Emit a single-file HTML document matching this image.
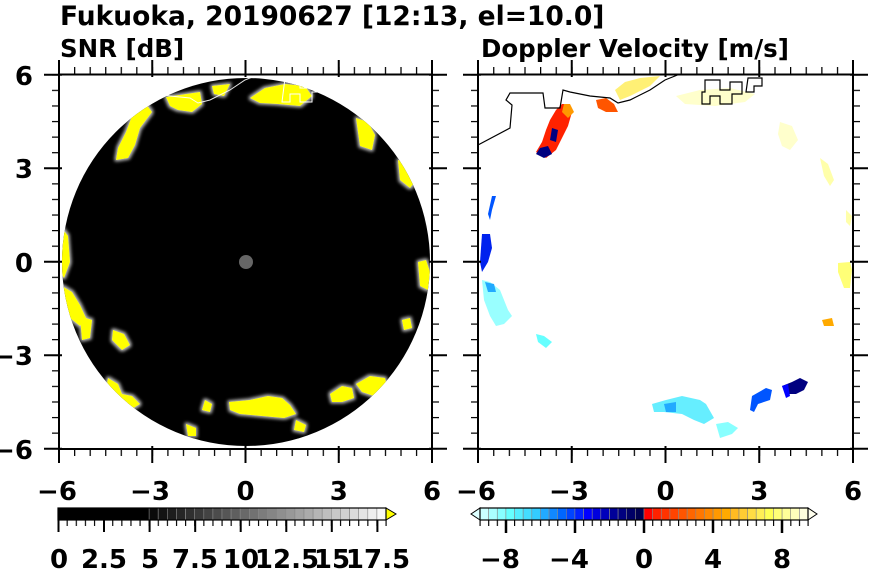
<!DOCTYPE html>
<html><head><meta charset="utf-8"><style>
html,body{margin:0;padding:0;background:#fff}
svg{display:block}
text{font-family:"DejaVu Sans","Liberation Sans",sans-serif;font-weight:bold;fill:#000}
</style></head><body>
<svg width="870" height="570" viewBox="0 0 870 570" xmlns="http://www.w3.org/2000/svg">
<defs>
<pattern id="hxL" patternUnits="userSpaceOnUse" x="58.5" y="0" width="15.54" height="570"><line x1="0.5" y1="0" x2="0.5" y2="570" stroke="#000" stroke-width="1.5"/></pattern>
<pattern id="hxR" patternUnits="userSpaceOnUse" x="477.5" y="0" width="15.625" height="570"><line x1="0.5" y1="0" x2="0.5" y2="570" stroke="#000" stroke-width="1.5"/></pattern>
<pattern id="vy" patternUnits="userSpaceOnUse" x="0" y="74.2" width="870" height="15.58"><line x1="0" y1="0.5" x2="870" y2="0.5" stroke="#000" stroke-width="1.5"/></pattern>
<pattern id="cbL" patternUnits="userSpaceOnUse" x="57.5" y="0" width="9.111" height="570"><line x1="0.5" y1="0" x2="0.5" y2="570" stroke="#000" stroke-width="1.3"/></pattern>
<pattern id="cbR" patternUnits="userSpaceOnUse" x="479.5" y="0" width="8.632" height="570"><line x1="0.5" y1="0" x2="0.5" y2="570" stroke="#000" stroke-width="1.3"/></pattern>
<filter id="glow" x="-20%" y="-20%" width="140%" height="140%"><feMorphology operator="dilate" radius="1.5" in="SourceAlpha" result="d"/><feGaussianBlur in="d" stdDeviation="1.5" result="b"/><feFlood flood-color="#bbb"/><feComposite in2="b" operator="in" result="g"/><feMerge><feMergeNode in="g"/><feMergeNode in="SourceGraphic"/></feMerge></filter>
<clipPath id="circ"><circle cx="246" cy="262" r="184"/></clipPath>
</defs>

<text x="60" y="25" font-size="26.5">Fukuoka, 20190627 [12:13, el=10.0]</text>
<text x="60" y="57" font-size="24.5">SNR [dB]</text>
<text x="481" y="57" font-size="24.5">Doppler Velocity [m/s]</text>

<!-- LEFT PANEL -->
<circle cx="246" cy="262" r="184" fill="#000"/>
<g clip-path="url(#circ)" fill="#ffff00" filter="url(#glow)">
<polygon points="146,104 152,112 140,128 135,145 128,158 116,160 118,148 126,132 132,116"/>
<polygon points="166,97 200,92 202,104 192,112 178,110 170,106"/>
<polygon points="212,86 230,84 224,96 214,94"/>
<polygon points="250,98 265,88 285,84 305,86 312,96 300,106 278,104 260,103"/>
<polygon points="356,118 368,122 375,135 372,150 360,146 358,132"/>
<polygon points="398,160 412,164 418,178 410,188 400,180"/>
<polygon points="62,228 68,236 70,262 64,278 60,272"/>
<polygon points="62,286 72,292 80,305 86,318 80,326 70,318 64,302"/>
<polygon points="80,316 92,320 90,338 82,340"/>
<polygon points="113,330 124,334 130,345 122,350 112,340"/>
<polygon points="108,378 118,384 122,394 132,396 140,404 130,410 114,402 106,390"/>
<polygon points="205,400 212,404 210,412 202,410"/>
<polygon points="229,402 250,400 268,396 282,398 290,405 296,414 284,418 262,416 240,414 230,410"/>
<polygon points="296,420 306,425 304,432 294,430"/>
<polygon points="330,394 342,386 352,388 354,398 342,402 332,402"/>
<polygon points="356,384 370,376 385,378 388,390 374,396 362,392"/>
<polygon points="402,320 410,318 412,328 404,330"/>
<polygon points="418,262 426,260 430,272 428,290 420,286"/>
<polygon points="428,210 432,218 430,226"/>
<polygon points="186,424 196,428 196,436 188,436"/>
</g>
<circle cx="246" cy="262" r="7" fill="#666"/>
<polyline points="59,145 95,128 96,105 90,100 94,93 124,93 126,108 140,108 143,90 150,92 170,96 190,98 198,103 210,100 230,90 245,80 260,74" fill="none" stroke="#fff" stroke-width="1" opacity="0.9"/>
<path d="M285,78 h15 v10 h10 v-8 h12 v12 h-10 v10 h-12 v-8 h-10 v8 h-8 z" fill="none" stroke="#fff" stroke-width="1"/>

<rect x="59" y="74.5" width="373" height="374.5" fill="none" stroke="#000" stroke-width="2"/>
<rect x="58" y="67" width="376" height="7" fill="url(#hxL)"/>
<rect x="58" y="449" width="376" height="7" fill="url(#hxL)"/>
<rect x="52" y="73" width="7" height="378" fill="url(#vy)"/>
<rect x="432" y="73" width="7" height="378" fill="url(#vy)"/>
<g stroke="#000" stroke-width="2">
<path d="M59,60V77M152.25,60V77M245.5,60V77M338.75,60V77M432,60V77"/>
<path d="M59,446V463M152.25,446V463M245.5,446V463M338.75,446V463M432,446V463"/>
<path d="M44,74.7H62M44,168.2H62M44,261.7H62M44,355.2H62M44,448.7H62"/>
<path d="M429,74.7H447M429,168.2H447M429,261.7H447M429,355.2H447M429,448.7H447"/>
</g>
<g font-size="26" text-anchor="end">
<text x="33" y="85">6</text><text x="33" y="178">3</text><text x="33" y="272">0</text><text x="33" y="365">−3</text><text x="33" y="459">−6</text>
</g>
<g font-size="26" text-anchor="middle">
<text x="57" y="500">−6</text><text x="150" y="500">−3</text><text x="245.5" y="500">0</text><text x="338.75" y="500">3</text><text x="432" y="500">6</text>
</g>

<!-- RIGHT PANEL -->
<g>
<polygon points="550,120 556,110 562,104 568,104 572,112 568,126 562,138 556,150 546,158 536,152 542,142 546,130" fill="#ff2200"/>
<polygon points="564,104 570,104 574,112 568,118 562,112" fill="#ff9900"/>
<polygon points="552,128 558,130 556,142 550,140" fill="#000080"/>
<polygon points="540,148 548,146 552,154 544,158 536,154" fill="#000080"/>
<polygon points="596,100 606,98 614,104 618,112 606,112 598,108" fill="#ff5500"/>
<polygon points="615,90 625,82 640,78 660,76 650,86 630,96 620,100" fill="#ffee66" opacity="0.9"/>
<polygon points="676,96 700,90 730,88 755,94 745,102 715,106 685,104" fill="#ffffcc"/>
<polygon points="780,122 792,126 798,140 790,150 782,146 778,134" fill="#ffffcc"/>
<polygon points="820,158 828,164 834,180 830,186 824,176" fill="#ffffaa"/>
<polygon points="846,210 852,216 850,226 846,222" fill="#ffffaa"/>
<polygon points="838,263 850,262 852,270 850,288 844,288 838,272" fill="#ffff77"/>
<polygon points="822,320 832,318 834,326 824,326" fill="#ffaa00"/>
<polygon points="492,196 496,196 492,210 490,220 488,214" fill="#0055ff"/>
<polygon points="482,234 490,234 492,248 488,262 482,272 480,262" fill="#0022ee"/>
<polygon points="482,280 490,282 500,290 504,300 508,310 512,316 504,324 496,326 490,316 484,300" fill="#99ffff"/>
<polygon points="485,282 494,284 496,292 488,292" fill="#22aaff"/>
<polygon points="536,334 544,336 552,342 546,348 538,342" fill="#66ffff"/>
<polygon points="652,404 666,400 682,396 700,400 706,404 714,418 704,424 694,420 682,414 664,412 654,412" fill="#66eeff"/>
<polygon points="664,404 676,402 676,412 666,412" fill="#22aaff"/>
<polygon points="716,424 728,422 738,428 732,434 720,438" fill="#88ffff"/>
<polygon points="752,396 766,388 772,390 770,400 758,404 754,412 750,410" fill="#0055ff"/>
<polygon points="782,386 792,382 800,378 808,382 804,390 796,394 786,394" fill="#000080"/>
<polygon points="782,386 788,384 790,396 786,398" fill="#0000ff"/>
</g>
<polyline points="478,145 510,128 512,105 506,100 510,93 543,93 545,108 560,108 563,90 570,92 590,96 610,98 618,103 630,100 650,90 665,80 680,74" fill="none" stroke="#000" stroke-width="1.2"/>
<path d="M705,80 h15 v10 h10 v-8 h12 v12 h-10 v10 h-12 v-8 h-10 v8 h-8 v-12 h3 z M748,78 h14 v8 h-8 v6 h-8 z" fill="none" stroke="#000" stroke-width="1.2"/>

<rect x="478" y="74.5" width="375" height="374.5" fill="none" stroke="#000" stroke-width="2"/>
<rect x="477" y="67" width="378" height="7" fill="url(#hxR)"/>
<rect x="477" y="449" width="378" height="7" fill="url(#hxR)"/>
<rect x="471" y="73" width="7" height="378" fill="url(#vy)"/>
<rect x="853" y="73" width="7" height="378" fill="url(#vy)"/>
<g stroke="#000" stroke-width="2">
<path d="M478,60V77M571.75,60V77M665.5,60V77M759.25,60V77M853,60V77"/>
<path d="M478,446V463M571.75,446V463M665.5,446V463M759.25,446V463M853,446V463"/>
<path d="M463,74.7H481M463,168.2H481M463,261.7H481M463,355.2H481M463,448.7H481"/>
<path d="M850,74.7H868M850,168.2H868M850,261.7H868M850,355.2H868M850,448.7H868"/>
</g>
<g font-size="26" text-anchor="middle">
<text x="476" y="500">−6</text><text x="569" y="500">−3</text><text x="665.5" y="500">0</text><text x="759.25" y="500">3</text><text x="853" y="500">6</text>
</g>

<!-- LEFT COLORBAR -->
<g stroke="#888" stroke-width="0.6">
<rect x="58" y="508" width="91.1" height="12" fill="#000" stroke="none"/>
<rect x="149.1" y="508" width="9.1" height="12" fill="rgb(10,10,10)"/>
<rect x="158.2" y="508" width="9.1" height="12" fill="rgb(19,19,19)"/>
<rect x="167.3" y="508" width="9.1" height="12" fill="rgb(29,29,29)"/>
<rect x="176.4" y="508" width="9.1" height="12" fill="rgb(38,38,38)"/>
<rect x="185.6" y="508" width="9.1" height="12" fill="rgb(48,48,48)"/>
<rect x="194.7" y="508" width="9.1" height="12" fill="rgb(57,57,57)"/>
<rect x="203.8" y="508" width="9.1" height="12" fill="rgb(67,67,67)"/>
<rect x="212.9" y="508" width="9.1" height="12" fill="rgb(76,76,76)"/>
<rect x="222.0" y="508" width="9.1" height="12" fill="rgb(86,86,86)"/>
<rect x="231.1" y="508" width="9.1" height="12" fill="rgb(95,95,95)"/>
<rect x="240.2" y="508" width="9.1" height="12" fill="rgb(105,105,105)"/>
<rect x="249.3" y="508" width="9.1" height="12" fill="rgb(114,114,114)"/>
<rect x="258.4" y="508" width="9.1" height="12" fill="rgb(124,124,124)"/>
<rect x="267.6" y="508" width="9.1" height="12" fill="rgb(133,133,133)"/>
<rect x="276.7" y="508" width="9.1" height="12" fill="rgb(143,143,143)"/>
<rect x="285.8" y="508" width="9.1" height="12" fill="rgb(152,152,152)"/>
<rect x="294.9" y="508" width="9.1" height="12" fill="rgb(162,162,162)"/>
<rect x="304.0" y="508" width="9.1" height="12" fill="rgb(171,171,171)"/>
<rect x="313.1" y="508" width="9.1" height="12" fill="rgb(181,181,181)"/>
<rect x="322.2" y="508" width="9.1" height="12" fill="rgb(190,190,190)"/>
<rect x="331.3" y="508" width="9.1" height="12" fill="rgb(200,200,200)"/>
<rect x="340.4" y="508" width="9.1" height="12" fill="rgb(209,209,209)"/>
<rect x="349.6" y="508" width="9.1" height="12" fill="rgb(219,219,219)"/>
<rect x="358.7" y="508" width="9.1" height="12" fill="rgb(228,228,228)"/>
<rect x="367.8" y="508" width="9.1" height="12" fill="rgb(238,238,238)"/>
<rect x="376.9" y="508" width="9.1" height="12" fill="rgb(247,247,247)"/>
</g>
<polygon points="386,508 396,514 386,520" fill="#ffff00" stroke="#000" stroke-width="1"/>
<rect x="58" y="508" width="328" height="12" fill="none" stroke="#000" stroke-width="1.2"/>
<rect x="57" y="520" width="331" height="6" fill="url(#cbL)"/>
<path d="M58.5,520V532M104,520V532M149.6,520V532M195.2,520V532M240.7,520V532M286.3,520V532M331.8,520V532M377.4,520V532" stroke="#000" stroke-width="2"/>
<g font-size="26" text-anchor="middle">
<text x="59" y="568">0</text><text x="104" y="568">2.5</text><text x="150" y="568">5</text><text x="195" y="568">7.5</text><text x="241" y="568">10</text><text x="287" y="568">12.5</text><text x="332" y="568">15</text><text x="378" y="568">17.5</text>
</g>

<!-- RIGHT COLORBAR -->
<g stroke="#888" stroke-width="0.6">
<rect x="480.0" y="508" width="8.63" height="12" fill="#ccffff"/>
<rect x="488.6" y="508" width="8.63" height="12" fill="#aaffff"/>
<rect x="497.3" y="508" width="8.63" height="12" fill="#88ffff"/>
<rect x="505.9" y="508" width="8.63" height="12" fill="#66ffff"/>
<rect x="514.5" y="508" width="8.63" height="12" fill="#55eeff"/>
<rect x="523.2" y="508" width="8.63" height="12" fill="#44ddff"/>
<rect x="531.8" y="508" width="8.63" height="12" fill="#33ccff"/>
<rect x="540.4" y="508" width="8.63" height="12" fill="#22aaff"/>
<rect x="549.1" y="508" width="8.63" height="12" fill="#1188ff"/>
<rect x="557.7" y="508" width="8.63" height="12" fill="#0066ff"/>
<rect x="566.3" y="508" width="8.63" height="12" fill="#0044ff"/>
<rect x="574.9" y="508" width="8.63" height="12" fill="#0022ff"/>
<rect x="583.6" y="508" width="8.63" height="12" fill="#0000ff"/>
<rect x="592.2" y="508" width="8.63" height="12" fill="#0000dd"/>
<rect x="600.8" y="508" width="8.63" height="12" fill="#0000bb"/>
<rect x="609.5" y="508" width="8.63" height="12" fill="#000099"/>
<rect x="618.1" y="508" width="8.63" height="12" fill="#000080"/>
<rect x="626.7" y="508" width="8.63" height="12" fill="#000066"/>
<rect x="635.4" y="508" width="8.63" height="12" fill="#000050"/>
<rect x="644.0" y="508" width="8.63" height="12" fill="#ff0000"/>
<rect x="652.6" y="508" width="8.63" height="12" fill="#ff2200"/>
<rect x="661.3" y="508" width="8.63" height="12" fill="#ff3300"/>
<rect x="669.9" y="508" width="8.63" height="12" fill="#ff4400"/>
<rect x="678.5" y="508" width="8.63" height="12" fill="#ff5500"/>
<rect x="687.2" y="508" width="8.63" height="12" fill="#ff6600"/>
<rect x="695.8" y="508" width="8.63" height="12" fill="#ff7700"/>
<rect x="704.4" y="508" width="8.63" height="12" fill="#ff8800"/>
<rect x="713.1" y="508" width="8.63" height="12" fill="#ff9900"/>
<rect x="721.7" y="508" width="8.63" height="12" fill="#ffaa00"/>
<rect x="730.3" y="508" width="8.63" height="12" fill="#ffbb22"/>
<rect x="739.0" y="508" width="8.63" height="12" fill="#ffcc33"/>
<rect x="747.6" y="508" width="8.63" height="12" fill="#ffdd44"/>
<rect x="756.2" y="508" width="8.63" height="12" fill="#ffee55"/>
<rect x="764.8" y="508" width="8.63" height="12" fill="#ffff55"/>
<rect x="773.5" y="508" width="8.63" height="12" fill="#ffff77"/>
<rect x="782.1" y="508" width="8.63" height="12" fill="#ffff99"/>
<rect x="790.7" y="508" width="8.63" height="12" fill="#ffffbb"/>
<rect x="799.4" y="508" width="8.63" height="12" fill="#ffffdd"/>
</g>
<polygon points="480,508 471,514 480,520" fill="#ddffff" stroke="#000" stroke-width="1"/>
<polygon points="808,508 817,514 808,520" fill="#ffffee" stroke="#000" stroke-width="1"/>
<rect x="480" y="508" width="328" height="12" fill="none" stroke="#000" stroke-width="1.2"/>
<rect x="479" y="520" width="331" height="6" fill="url(#cbR)"/>
<path d="M506,520V533M575,520V533M644,520V533M713,520V533M782,520V533" stroke="#000" stroke-width="2.5"/>
<g font-size="26" text-anchor="middle">
<text x="500" y="568">−8</text><text x="569" y="568">−4</text><text x="644" y="568">0</text><text x="713" y="568">4</text><text x="782" y="568">8</text>
</g>
</svg>
</body></html>
